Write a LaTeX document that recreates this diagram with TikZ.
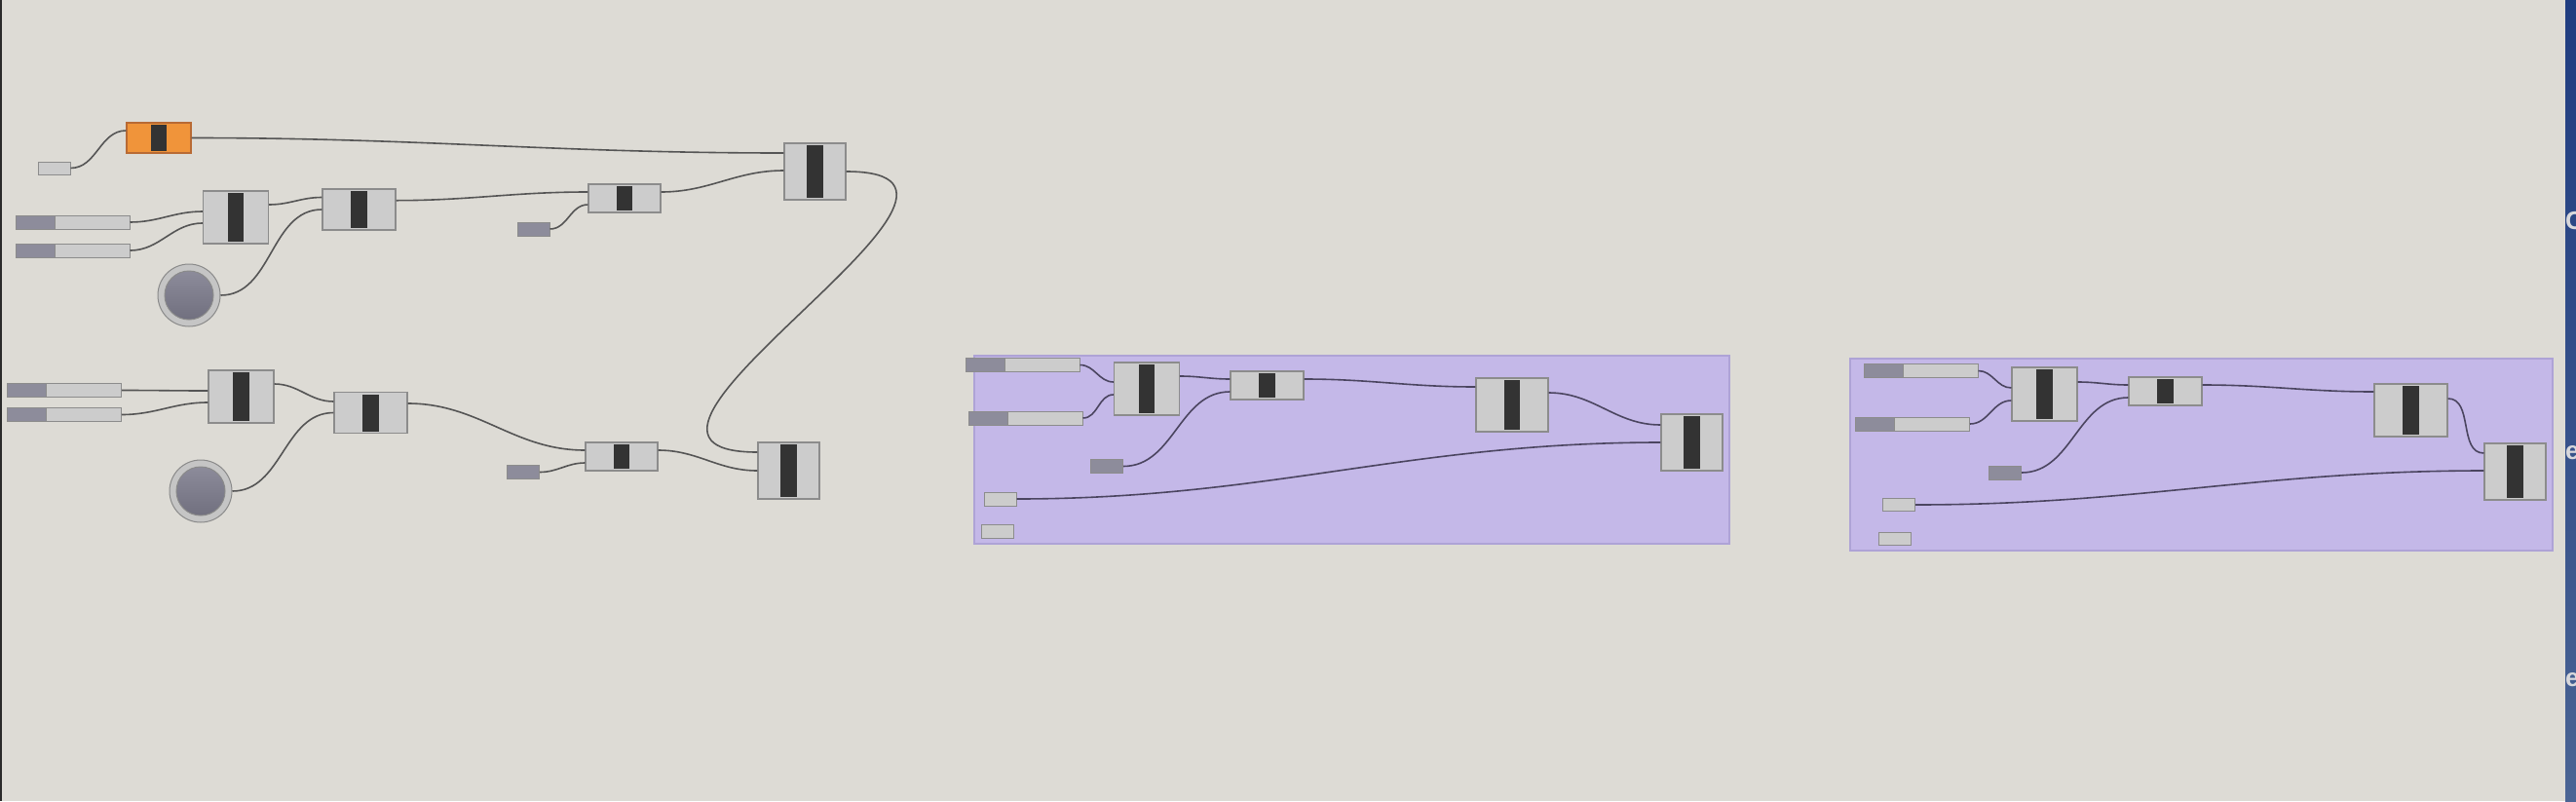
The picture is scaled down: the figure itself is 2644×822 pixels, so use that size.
\documentclass[tikz,border=0pt]{standalone}
\usepackage{fontspec}
\setsansfont{Liberation Sans}
\usepackage{tikz}
\usetikzlibrary{positioning, calc}
\definecolor{Canvas}    {HTML}{DDDBD5}
\definecolor{CompFill}  {HTML}{CCCCCC}
\definecolor{CompEdge}  {HTML}{8C8C8C}
\definecolor{Bar}       {HTML}{333333}
\definecolor{Orange}    {HTML}{F0943A}
\definecolor{OrangeEdge}{HTML}{B86A34}
\definecolor{SlideDark} {HTML}{8D8C9B}
\definecolor{KnobRing}  {HTML}{C5C5C5}
\definecolor{KnobEdge}  {HTML}{8A8A8A}
\definecolor{KnobTop}   {HTML}{908F9E}
\definecolor{KnobBot}   {HTML}{6D6C7B}
\definecolor{Wire}      {HTML}{555555}
\definecolor{WireG}     {HTML}{4B4560}
\definecolor{GroupFill} {HTML}{C4B8E8}
\definecolor{GroupEdge} {HTML}{AEA3D6}
\definecolor{StripTop}  {HTML}{1F3C80}
\definecolor{StripBot}  {HTML}{4A6494}
\definecolor{StripText} {HTML}{D8D8DC}
\definecolor{EdgeLine}  {HTML}{2A2A2A}

\tikzset{
  comp/.style={draw=CompEdge, fill=CompFill, line width=1.2pt, inner sep=0pt,
    path picture={\fill[Bar] ($(path picture bounding box.north)+(-8.3pt,-2pt)$)
      rectangle ($(path picture bounding box.south)+(8.3pt,2pt)$);}},
  big/.style={comp, minimum width=67pt, minimum height=54pt},
  mid/.style={comp, minimum width=75pt, minimum height=42pt},
  flat/.style={comp, minimum width=74pt, minimum height=29pt},
  tall/.style={comp, minimum width=63pt, minimum height=58pt},
  slider/.style={draw=CompEdge, fill=CompFill, line width=1pt, inner sep=0pt,
    minimum width=117pt, minimum height=14pt,
    path picture={\fill[SlideDark] (path picture bounding box.south west)
      rectangle ($(path picture bounding box.north west)+(40pt,0pt)$);
      \draw[CompEdge, line width=1pt] ($(path picture bounding box.south west)+(40pt,0pt)$) -- ++(0pt,14pt);}},
  numbox/.style={draw=CompEdge, fill=SlideDark, line width=1pt, inner sep=0pt,
    minimum width=33pt, minimum height=14pt},
  panel/.style={draw=CompEdge, fill=CompFill, line width=1pt, inner sep=0pt,
    minimum width=33pt, minimum height=13pt},
  knob/.style={circle, draw=KnobEdge, fill=KnobRing, line width=1pt, inner sep=0pt,
    minimum size=64pt,
    path picture={\shade[top color=KnobTop, bottom color=KnobBot, draw=KnobEdge, line width=1pt]
      (path picture bounding box.center) circle (25pt);}},
  wire/.style={draw=Wire, line width=1.6pt},
  gwire/.style={draw=WireG, line width=1.6pt},
  grp/.style={fill=GroupFill, draw=GroupEdge, line width=1.5pt},
  edgetext/.style={anchor=west, inner sep=0pt, text=StripText,
    font=\sffamily\bfseries\fontsize{26}{26}\selectfont}
}

\begin{document}
\begin{tikzpicture}[x=1pt, y=-1pt]
  \useasboundingbox (0,0) rectangle (2644,822);
  \fill[Canvas] (0,0) rectangle (2644,822);
  \draw[EdgeLine, line width=2pt] (1,0) -- (1,822);

  % groups
  \filldraw[grp] (1000,365) rectangle (1775,558);
  \filldraw[grp] (1899,368) rectangle (2620,565);

  % upper chain
  \node[panel] (p0) at (55.5,172.5) {};
  \node[comp, fill=Orange, draw=OrangeEdge, minimum width=66pt, minimum height=31pt] (c0) at (163,141.5) {};
  \node[slider] (s1) at (74.5,228) {};
  \node[slider] (s2) at (74.5,257) {};
  \node[knob] (k1) at (194,303) {};
  \node[big] (c1) at (242,223) {};
  \node[mid] (c2) at (368.5,215) {};
  \node[numbox] (n1) at (547.5,235) {};
  \node[flat] (c3) at (641,203.5) {};
  \node[tall] (c4) at (836.5,176) {};

  % lower chain
  \node[slider] (s3) at (66,400.5) {};
  \node[slider] (s4) at (66,425.5) {};
  \node[knob] (k2) at (206,504) {};
  \node[big] (c5) at (247.5,407) {};
  \node[mid] (c6) at (380.5,423.5) {};
  \node[numbox] (n2) at (537,484.5) {};
  \node[flat] (c7) at (638,468.5) {};
  \node[tall] (c8) at (809.5,483) {};

  \draw[wire] (p0.east) to[out=0,in=180] ([yshift=7.5pt]c0.west);
  \draw[wire] (c0.east) to[out=0,in=180] ([yshift=19pt]c4.west);
  \draw[wire] (s1.east) to[out=0,in=180] ([yshift=6pt]c1.west);
  \draw[wire] (s2.east) to[out=0,in=180] ([yshift=-6pt]c1.west);
  \draw[wire] ([yshift=13pt]c1.east) to[out=0,in=180] ([yshift=12.5pt]c2.west);
  \draw[wire] (k1.east) to[out=0,in=180] (c2.west);
  \draw[wire] ([yshift=9.3pt]c2.east) to[out=0,in=180] ([yshift=6.5pt]c3.west);
  \draw[wire] (n1.east) to[out=0,in=180] ([yshift=-6.5pt]c3.west);
  \draw[wire] ([yshift=6.5pt]c3.east) to[out=0,in=180] ([yshift=1pt]c4.west);
  \draw[wire] (c4.east) to[out=0,in=180,looseness=1.78] ([yshift=19pt]c8.west);

  \draw[wire] (s3.east) to[out=0,in=180] ([yshift=6pt]c5.west);
  \draw[wire] (s4.east) to[out=0,in=180] ([yshift=-6pt]c5.west);
  \draw[wire] ([yshift=13pt]c5.east) to[out=0,in=180] ([yshift=11.5pt]c6.west);
  \draw[wire] (k2.east) to[out=0,in=180] (c6.west);
  \draw[wire] ([yshift=9.5pt]c6.east) to[out=0,in=180] ([yshift=6.5pt]c7.west);
  \draw[wire] (n2.east) to[out=0,in=180] ([yshift=-6.5pt]c7.west);
  \draw[wire] ([yshift=6.5pt]c7.east) to[out=0,in=180] (c8.west);

  % second group
  \node[slider] (gbs1) at (1049.5,374.5) {};
  \node[slider] (gbs2) at (1052.5,429) {};
  \node[big] (gbc1) at (1177,399) {};
  \node[flat, minimum width=75pt] (gbc2) at (1300.5,395.5) {};
  \node[numbox] (gbn) at (1136,478.5) {};
  \node[panel, minimum height=14pt] (gbp1) at (1026.5,512) {};
  \node[panel, minimum height=14pt] (gbp2) at (1023.5,545.5) {};
  \node[big, minimum width=74pt, minimum height=55pt] (gbc3) at (1552,415.5) {};
  \node[tall] (gbc4) at (1736.5,454) {};

  \draw[gwire] (gbs1.east) to[out=0,in=180] ([yshift=7pt]gbc1.west);
  \draw[gwire] (gbs2.east) to[out=0,in=180] ([yshift=-6pt]gbc1.west);
  \draw[gwire] ([yshift=13pt]gbc1.east) to[out=0,in=180] ([yshift=6.5pt]gbc2.west);
  \draw[gwire] (gbn.east) to[out=0,in=180] ([yshift=-6.5pt]gbc2.west);
  \draw[gwire] ([yshift=6.5pt]gbc2.east) to[out=0,in=180] ([yshift=18.5pt]gbc3.west);
  \draw[gwire] ([yshift=12.5pt]gbc3.east) to[out=0,in=180] ([yshift=18pt]gbc4.west);
  \draw[gwire] (gbp1.east) to[out=0,in=180] (gbc4.west);

  % third group
  \node[slider] (gcs1) at (1971.5,380.5) {};
  \node[slider] (gcs2) at (1963,435) {};
  \node[big, minimum height=55pt] (gcc1) at (2098.5,404.5) {};
  \node[flat, minimum width=75pt] (gcc2) at (2222.5,401.5) {};
  \node[numbox] (gcn) at (2058,485) {};
  \node[panel] (gcp1) at (1949,518) {};
  \node[panel] (gcp2) at (1945,552.5) {};
  \node[big, minimum width=75pt] (gcc3) at (2474.5,421) {};
  \node[tall] (gcc4) at (2581.5,484) {};

  \draw[gwire] (gcs1.east) to[out=0,in=180] ([yshift=6.5pt]gcc1.west);
  \draw[gwire] (gcs2.east) to[out=0,in=180] ([yshift=-6.5pt]gcc1.west);
  \draw[gwire] ([yshift=12.5pt]gcc1.east) to[out=0,in=180] ([yshift=6.5pt]gcc2.west);
  \draw[gwire] (gcn.east) to[out=0,in=180] ([yshift=-6.5pt]gcc2.west);
  \draw[gwire] ([yshift=6.5pt]gcc2.east) to[out=0,in=180] ([yshift=19pt]gcc3.west);
  \draw[gwire] ([yshift=12pt]gcc3.east) to[out=0,in=180] ([yshift=19pt]gcc4.west);
  \draw[gwire] (gcp1.east) to[out=0,in=180] ([yshift=1pt]gcc4.west);

  % window edge
  \begin{scope}
    \clip (2633,0) rectangle (2644,822);
    \shade[top color=StripTop, bottom color=StripBot] (2633,0) rectangle (2644,822);
    \node[edgetext] (t1) at (2633,227) {C};
    \node[edgetext] (t2) at (2633,465) {ea};
    \node[edgetext] (t3) at (2633,698) {ea};
  \end{scope}
\end{tikzpicture}
\end{document}
